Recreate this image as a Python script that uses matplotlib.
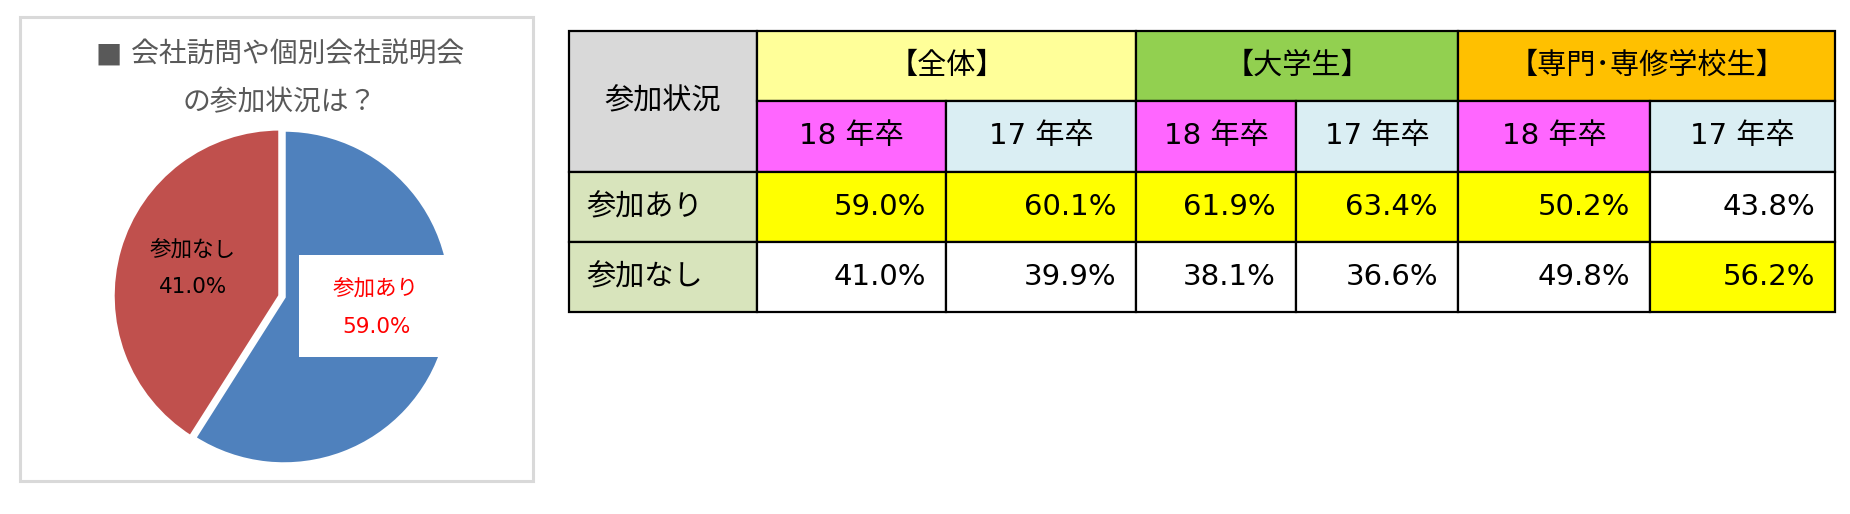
import matplotlib
matplotlib.use('Agg')
import matplotlib.pyplot as plt
from matplotlib.patches import Rectangle

# Latin digits in a Verdana-like face, Japanese from Noto CJK
plt.rcParams['font.family'] = ['DejaVu Sans', 'Noto Sans CJK JP']

# pie chart data
title_lines = ['■ 会社訪問や個別会社説明会', 'の参加状況は？']
pie_labels = ['参加あり', '参加なし']
pie_values = [59.0, 41.0]
pie_colors = ['#4F81BD', '#C0504D']

# table data
corner_label = '参加状況'
groups = ['【全体】', '【大学生】', '【専門･専修学校生】']
group_colors = ['#FFFF99', '#92D050', '#FFC000']
years = ['18 年卒', '17 年卒']
year_colors = ['#FF66FF', '#DAEEF3']
row_labels = ['参加あり', '参加なし']
values = [
    [59.0, 60.1, 61.9, 63.4, 50.2, 43.8],
    [41.0, 39.9, 38.1, 36.6, 49.8, 56.2],
]

W, H = 1850, 514
fig = plt.figure(figsize=(W / 100, H / 100), dpi=100)

# pie, in its own square axes (a little margin for the exploded slice)
cx, cy, r = 284, 297, 167
m = 1.05
pax = fig.add_axes([(cx - r * m) / W, (H - cy - r * m) / H, 2 * r * m / W, 2 * r * m / H])
pax.pie(pie_values, colors=pie_colors, startangle=90, counterclock=False,
        explode=[0, 0.025], radius=1.0,
        wedgeprops=dict(edgecolor='white', linewidth=2.5))
pax.set_xlim(-m, m)
pax.set_ylim(-m, m)
pax.axis('off')

# overlay in pixel coordinates for the frame, labels and table
ax = fig.add_axes([0, 0, 1, 1])
ax.set_xlim(0, W)
ax.set_ylim(H, 0)
ax.axis('off')
ax.patch.set_alpha(0)

ax.add_patch(Rectangle((20, 17), 513, 464, fill=False, edgecolor='#D9D9D9', linewidth=2.2))
ax.text(280, 55, title_lines[0], ha='center', va='center', fontsize=20, color='#595959')
ax.text(280, 102, title_lines[1], ha='center', va='center', fontsize=20, color='#595959')

# data labels
ax.add_patch(Rectangle((299, 255), 160, 102, facecolor='white', edgecolor='none'))
ax.text(376, 288, pie_labels[0], ha='center', va='center', fontsize=15.5, color='#FF0000')
ax.text(376, 327, f'{pie_values[0]:.1f}%', ha='center', va='center', fontsize=15.5, color='#FF0000')
ax.text(193, 249, pie_labels[1], ha='center', va='center', fontsize=15.5, color='black')
ax.text(193, 287, f'{pie_values[1]:.1f}%', ha='center', va='center', fontsize=15.5, color='black')

# table layout
col_edges = [569, 757, 946, 1136, 1296, 1458, 1650, 1835]
row_edges = [31, 101, 172, 242, 312]
lw = 1.6
fs = 21


def cell(x0, x1, y0, y1, color):
    ax.add_patch(Rectangle((x0, y0), x1 - x0, y1 - y0, facecolor=color,
                           edgecolor='black', linewidth=lw))


cell(col_edges[0], col_edges[1], row_edges[0], row_edges[2], '#D9D9D9')
ax.text((col_edges[0] + col_edges[1]) / 2, (row_edges[0] + row_edges[2]) / 2,
        corner_label, ha='center', va='center', fontsize=fs)

for g, name in enumerate(groups):
    x0, x1 = col_edges[1 + 2 * g], col_edges[3 + 2 * g]
    cell(x0, x1, row_edges[0], row_edges[1], group_colors[g])
    ax.text((x0 + x1) / 2, (row_edges[0] + row_edges[1]) / 2, name,
            ha='center', va='center', fontsize=fs)
    for k, yr in enumerate(years):
        a, b = col_edges[1 + 2 * g + k], col_edges[2 + 2 * g + k]
        cell(a, b, row_edges[1], row_edges[2], year_colors[k])
        ax.text((a + b) / 2, (row_edges[1] + row_edges[2]) / 2, yr,
                ha='center', va='center', fontsize=fs)

for i, lab in enumerate(row_labels):
    y0, y1 = row_edges[2 + i], row_edges[3 + i]
    cell(col_edges[0], col_edges[1], y0, y1, '#D8E4BC')
    ax.text(col_edges[0] + 17, (y0 + y1) / 2, lab, ha='left', va='center', fontsize=fs)
    for j, v in enumerate(values[i]):
        a, b = col_edges[1 + j], col_edges[2 + j]
        cell(a, b, y0, y1, '#FFFF00' if v > 50 else 'white')
        ax.text(b - 20, (y0 + y1) / 2, f'{v:.1f}%', ha='right', va='center', fontsize=fs)

fig.savefig('out.png', dpi=100)
